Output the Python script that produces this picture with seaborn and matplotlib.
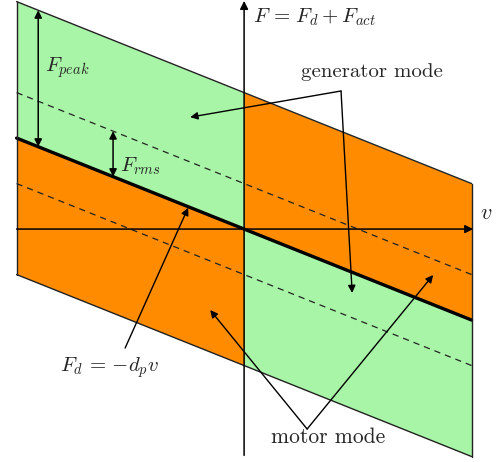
import numpy as np
import pandas as pd
import seaborn as sns
import matplotlib.pyplot as plt

# normalised diagram values
v_edges = [-1.0, 0.0, 1.0]
d_p = 0.4
F_peak = 0.6
F_rms = 0.2
green = '#a8f5a8'
orange = '#ff8c00'

sns.set_theme(style='white')
plt.rcParams['mathtext.fontset'] = 'cm'

fig = plt.figure(figsize=(4.98, 4.62), dpi=100)
ax = fig.add_axes([0, 0, 1, 1])
ax.set_xlim(-1.073, 1.116)
ax.set_ylim(-1.024, 1.007)
ax.axis('off')

v = np.array(v_edges)
Fd = -d_p * v
left = v <= 0
right = v >= 0

# regions
ax.fill_between(v[left], Fd[left], Fd[left] + F_peak, color=green, lw=0)
ax.fill_between(v[left], Fd[left] - F_peak, Fd[left], color=orange, lw=0)
ax.fill_between(v[right], Fd[right], Fd[right] + F_peak, color=orange, lw=0)
ax.fill_between(v[right], Fd[right] - F_peak, Fd[right], color=green, lw=0)

lines = pd.DataFrame({
    'v': np.concatenate([v] * 5),
    'F': np.concatenate([Fd, Fd + F_peak, Fd - F_peak, Fd + F_rms, Fd - F_rms]),
    'kind': np.repeat(['bold', 'top', 'bottom', 'rms_up', 'rms_dn'], len(v)),
})
sns.lineplot(data=lines[lines.kind == 'bold'], x='v', y='F', color='black', lw=2.4, ax=ax)
for k in ['top', 'bottom']:
    sns.lineplot(data=lines[lines.kind == k], x='v', y='F', color='#222222', lw=1.0, ax=ax)
for k in ['rms_up', 'rms_dn']:
    sns.lineplot(data=lines[lines.kind == k], x='v', y='F', color='#222222', lw=0.9,
                 ax=ax, linestyle=(0, (5, 4)))
for x in [v[0], v[-1]]:
    ax.plot([x, x], [-d_p * x - F_peak, -d_p * x + F_peak], color='#222222', lw=1.0)

# axes arrows
arrow = dict(arrowstyle='-|>', color='black', lw=1.1, mutation_scale=12, shrinkA=0, shrinkB=0)
ax.annotate('', xy=(1.007, 0), xytext=(-1.0, 0), arrowprops=arrow)
ax.annotate('', xy=(0, 1.003), xytext=(0, -0.995), arrowprops=arrow)
ax.text(1.035, 0.07, r'$v$', fontsize=16, va='center', ha='left')
ax.text(0.04, 0.93, r'$F\,=\,F_d + F_{act}$', fontsize=15, va='center', ha='left')

# F_peak and F_rms
dbl = dict(arrowstyle='<|-|>', color='black', lw=1.1, mutation_scale=11, shrinkA=0, shrinkB=0)
vp = -0.905
ax.annotate('', xy=(vp, -d_p * vp + F_peak), xytext=(vp, -d_p * vp), arrowprops=dbl)
ax.text(-0.875, 0.71, r'$F_{peak}$', fontsize=15, va='center', ha='left')
vr = -0.576
ax.annotate('', xy=(vr, -d_p * vr + F_rms), xytext=(vr, -d_p * vr), arrowprops=dbl)
ax.text(-0.545, 0.277, r'$F_{rms}$', fontsize=15, va='center', ha='left')

# labels with pointer lines
ptr = dict(arrowstyle='-|>', color='black', lw=1.0, mutation_scale=11, shrinkA=0, shrinkB=0)
ax.text(0.563, 0.69, 'generator mode', fontsize=15, family='cmr10', ha='center', va='center')
for tip in [(-0.237, 0.492), (0.475, -0.281)]:
    ax.annotate('', xy=tip, xytext=(0.426, 0.607), arrowprops=ptr)

ax.text(-0.589, -0.607, r'$F_d\,=\,{-}d_p v$', fontsize=15, ha='center', va='center')
ax.annotate('', xy=(-0.246, 0.094), xytext=(-0.523, -0.523), arrowprops=ptr)

ax.text(0.369, -0.914, 'motor mode', fontsize=15.5, family='cmr10', ha='center', va='center')
for tip in [(-0.149, -0.356), (0.831, -0.202)]:
    ax.annotate('', xy=tip, xytext=(0.277, -0.879), arrowprops=ptr)

plt.savefig('out.png', dpi=100)
